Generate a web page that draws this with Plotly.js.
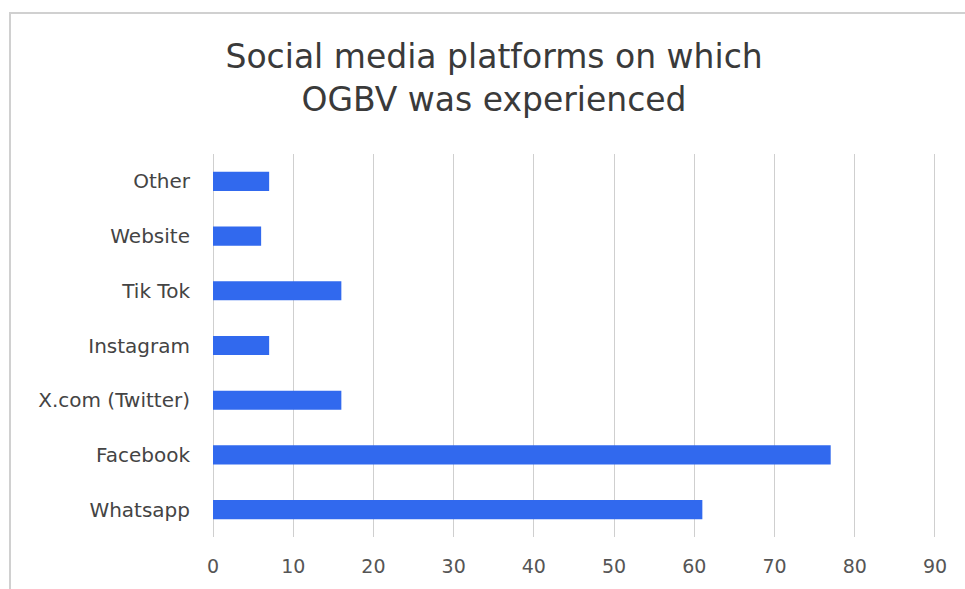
<!DOCTYPE html>
<html>
<head>
<meta charset="utf-8">
<script src="https://cdn.plot.ly/plotly-3.0.1.min.js"></script>
<style>
html,body{margin:0;padding:0;background:#fff;}
#wrap{position:relative;width:965px;height:589px;}
#chart{position:absolute;left:0;top:0;width:965px;height:589px;}
#frame{position:absolute;left:9px;top:12px;width:956px;height:577px;border-left:2px solid #d0d0d0;border-top:2px solid #d0d0d0;pointer-events:none;}
</style>
</head>
<body>
<div id="wrap"><div id="chart"></div><div id="frame"></div></div>
<script>
var categories = ["Whatsapp", "Facebook", "X.com (Twitter)", "Instagram", "Tik Tok", "Website", "Other"];
var values = [61, 77, 16, 7, 16, 6, 7];
var xTicks = [0, 10, 20, 30, 40, 50, 60, 70, 80, 90];
var titleText = "Social media platforms on which<br>OGBV was experienced";

var fam = "DejaVu Sans, Liberation Sans, Arial, sans-serif";
Plotly.newPlot("chart", [{
  type: "bar",
  orientation: "h",
  y: categories,
  x: values,
  width: 0.35,
  marker: {color: "#3169ee"},
  hoverinfo: "x+y"
}], {
  width: 965, height: 589,
  margin: {l: 213, r: 26, t: 154, b: 52},
  paper_bgcolor: "#fff",
  plot_bgcolor: "#fff",
  showlegend: false,
  title: {
    text: titleText,
    font: {family: fam, size: 33, color: "#3a3a3a"},
    x: 0.512, xanchor: "center",
    y: 0.884, yanchor: "top"
  },
  xaxis: {
    range: [0, 90.5],
    tickvals: xTicks,
    ticktext: xTicks.map(String),
    showgrid: true,
    gridcolor: "#cfcfcf",
    gridwidth: 1,
    zeroline: true,
    zerolinecolor: "#cfcfcf",
    showline: false,
    ticks: "outside",
    ticklen: 12,
    tickcolor: "rgba(0,0,0,0)",
    tickfont: {family: fam, size: 19, color: "#555"}
  },
  yaxis: {
    categoryorder: "array",
    categoryarray: categories,
    showgrid: false,
    zeroline: false,
    showline: false,
    ticks: "outside",
    ticklen: 18,
    tickcolor: "rgba(0,0,0,0)",
    tickfont: {family: fam, size: 20, color: "#444"}
  }
}, {displayModeBar: false});
</script>
</body>
</html>
